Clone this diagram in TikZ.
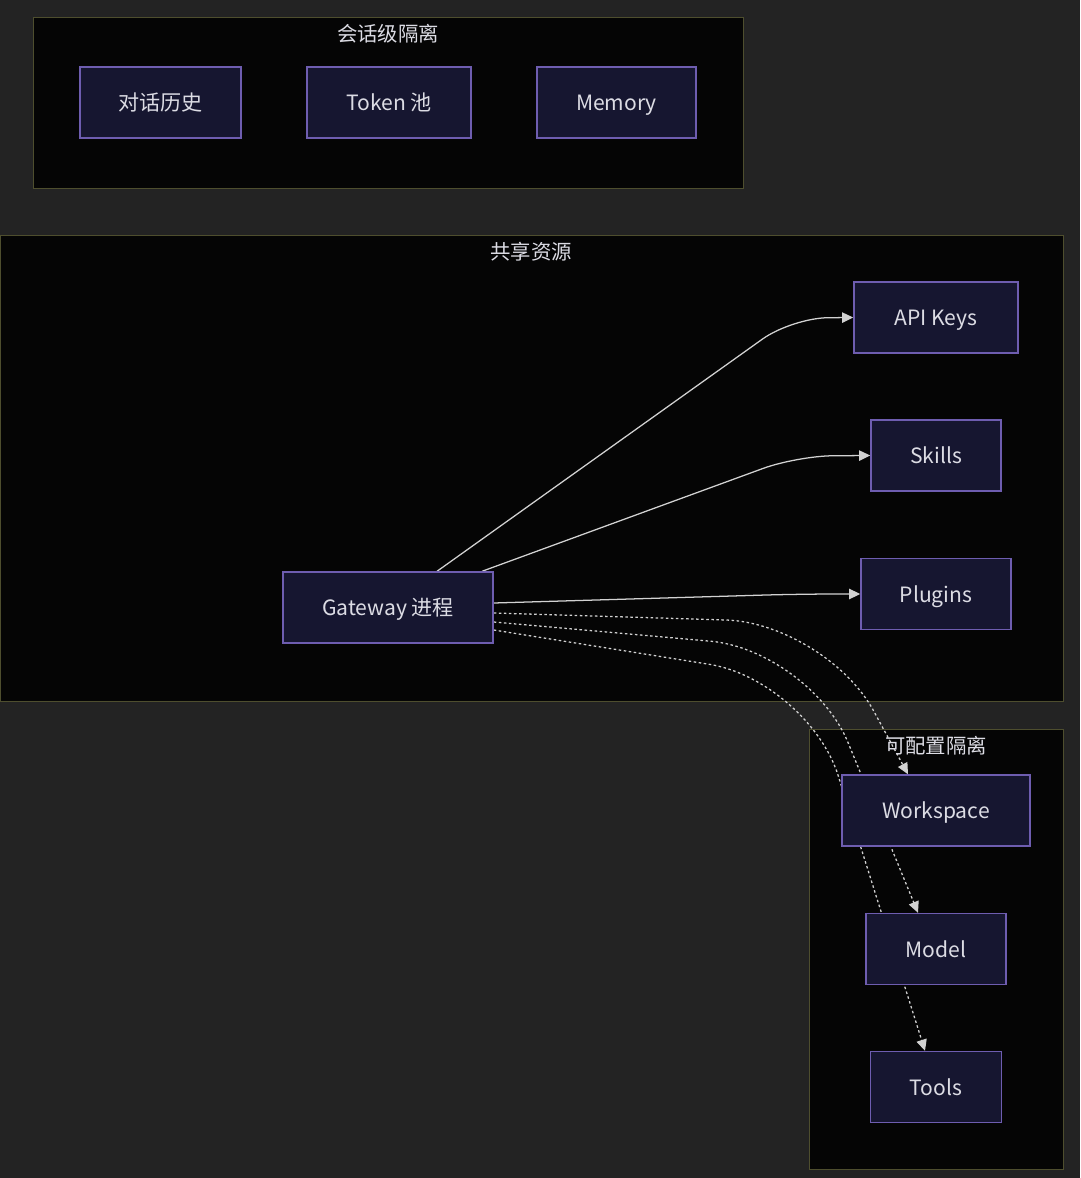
\documentclass[tikz,border=0pt]{standalone}
\usepackage{fontspec}
\setmainfont{Noto Sans CJK SC}
\usepackage{xcolor}
\usepackage{tikz}
\usetikzlibrary{arrows.meta}

\definecolor{canvas}{HTML}{232323}
\definecolor{groupfill}{HTML}{050505}
\definecolor{groupline}{HTML}{4E4E2E}
\definecolor{nodefill}{HTML}{161630}
\definecolor{nodeline}{HTML}{6E5DB0}
\definecolor{label}{HTML}{DCDCE4}
\definecolor{edgecol}{HTML}{D2D2D2}

\pgfdeclarelayer{bg}
\pgfdeclarelayer{edges}
\pgfsetlayers{bg,edges,main}

\tikzset{
  box/.style={draw=nodeline, fill=nodefill, line width=1pt, text=label,
    minimum height=1.775cm, inner sep=0pt, text height=1.2em, text depth=0pt,
    font=\fontsize{15}{18}\selectfont},
  group/.style={draw=groupline, fill=groupfill, line width=0.7pt},
  title/.style={text=label, inner sep=0pt, font=\fontsize{14.5}{17}\selectfont},
  link/.style={draw=edgecol, line width=0.9pt, rounded corners=0.9cm,
    -{Triangle[length=2.8mm,width=2.6mm]}},
  dotlink/.style={link, dash pattern=on 1.8pt off 1.8pt, rounded corners=2.5cm},
}

\begin{document}
\begin{tikzpicture}[x=0.025cm, y=-0.025cm]

\useasboundingbox (0,0) rectangle (1080,1178);

\begin{pgfonlayer}{bg}
\fill[canvas] (0,0) rectangle (1080,1178);
\draw[group] (33,17) rectangle (743,188);
\draw[group] (0,235) rectangle (1063,701);
\draw[group] (809,729) rectangle (1063,1169);
\end{pgfonlayer}

\node[title] (t1) at (388,34) {会话级隔离};
\node[title] (t2) at (531,252) {共享资源};
\node[title] (t3) at (936,746) {可配置隔离};

\foreach \name/\x/\y/\w/\txt in {
hist/160.5/102.5/4.025/对话历史,
token/389/102.5/4.1/Token 池,
mem/616.5/102.5/3.975/Memory,
api/936/317.5/4.1/API Keys,
skills/936/455.5/3.25/Skills,
plugins/936/594/3.75/Plugins,
gw/388/607.5/5.25/Gateway 进程,
ws/936/810.5/4.7/Workspace,
model/936/949/3.5/Model,
tools/936/1087/3.275/Tools
}{
    \node[box, minimum width=\w cm] (\name) at (\x,\y) {\txt};
}

\begin{pgfonlayer}{edges}
\draw[link] ([xshift=1.225cm]gw.north) -- (792,318) -- (api.west);
\draw[link] ([xshift=2.35cm]gw.north) -- (797,456) -- (skills.west);
\draw[link] ([yshift=0.1125cm]gw.east) -- (800,594) -- (plugins.west);
\draw[dotlink] ([yshift=-0.1375cm]gw.east) -- (826,623) -- ([xshift=-0.7cm]ws.north);
\draw[dotlink] ([yshift=-0.3625cm]gw.east) -- (810,650) -- ([xshift=-0.45cm]model.north);
\draw[dotlink] ([yshift=-0.5625cm]gw.east) -- (808,680) -- ([xshift=-0.275cm]tools.north);
\end{pgfonlayer}

\end{tikzpicture}
\end{document}
